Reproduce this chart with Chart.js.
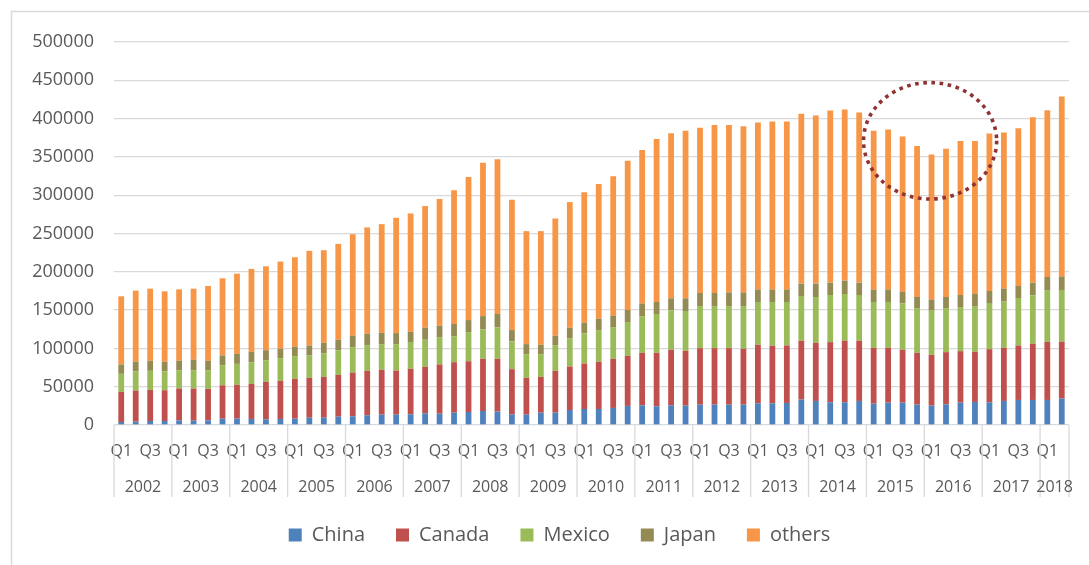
<!DOCTYPE html>
<html>
<head>
<meta charset="utf-8">
<title>Imports by source</title>
<script src="https://cdn.jsdelivr.net/npm/chart.js@4.4.0/dist/chart.umd.min.js"></script>
<style>
  html, body { margin: 0; padding: 0; background: #fff; }
  #wrap { position: relative; width: 1089px; height: 565px; }
</style>
</head>
<body>
<div id="wrap"><canvas id="importsChart"></canvas></div>
<script>
// categories
const years = ['2002', '2003', '2004', '2005', '2006', '2007', '2008', '2009', '2010',
  '2011', '2012', '2013', '2014', '2015', '2016', '2017', '2018'];
const quarterNames = ['Q1', 'Q2', 'Q3', 'Q4'];
const quartersIn2018 = 2;

// series values
const china = [3900, 4400, 5200, 5200, 6100, 5700, 6100, 8300, 8300, 7900, 7400, 7900,
  8300, 9600, 9600, 10900, 11300, 12700, 13500, 13500, 14000, 15300, 14800, 16100,
  17000, 18300, 17500, 14000, 13500, 16100, 16100, 19600, 20900, 20900, 22300, 24900,
  25700, 24400, 25700, 25300, 26600, 26600, 26600, 26600, 28400, 28400, 28800, 33200,
  31400, 29700, 29700, 31400, 27900, 29200, 29200, 26600, 25300, 27000, 29200, 30100,
  29700, 31400, 32700, 32700, 32700, 34500];
const canada = [39300, 40600, 40600, 40200, 41500, 41900, 41000, 43600, 44100, 45800, 48900, 49700,
  51900, 51900, 53200, 54500, 57200, 58000, 58500, 57600, 59300, 60600, 64200, 65900,
  66300, 68100, 68900, 58900, 48000, 46700, 54600, 56800, 59400, 61600, 64100, 65400,
  68500, 69800, 72500, 71600, 73700, 73700, 73700, 72900, 76300, 75000, 75000, 76800,
  75900, 78500, 80300, 78600, 72900, 71600, 69000, 67600, 66300, 68100, 67200, 65400,
  69300, 69400, 71100, 73300, 75900, 74100];
const mexico = [23600, 25200, 24900, 24800, 24000, 24000, 24500, 26200, 27400, 28300, 28300, 29700,
  29700, 29700, 31000, 32300, 33200, 33600, 33600, 34500, 35000, 35400, 35700, 34000,
  38000, 38400, 41000, 36200, 31000, 29700, 33600, 37000, 39200, 41400, 41400, 44100,
  48000, 50700, 51400, 51900, 55000, 54200, 55000, 55800, 55900, 57200, 56800, 58400,
  59800, 61500, 61000, 59700, 59800, 59800, 60600, 58500, 57600, 57600, 57600, 59800,
  60300, 60200, 62000, 63300, 66800, 67700];
const japan = [12200, 12300, 13100, 12300, 12200, 13500, 12200, 12700, 13100, 13500, 13100, 12200,
  12200, 12600, 13500, 13600, 14800, 14800, 14800, 14400, 13400, 15700, 14900, 15800,
  15700, 17400, 17500, 14800, 13100, 12200, 12200, 13600, 14000, 14800, 14900, 15700,
  16200, 15700, 15800, 16600, 17000, 17800, 17900, 17500, 16100, 16100, 16100, 16200,
  17500, 16200, 17500, 16200, 16100, 16100, 15300, 14400, 14400, 14400, 15700, 16200,
  15700, 17000, 15700, 16600, 17900, 17400];
const others = [89000, 92900, 94200, 92000, 93300, 92900, 97700, 100700, 104700, 108300, 109500, 113900,
  116900, 123500, 120900, 125200, 132600, 138800, 141800, 150500, 154500, 158800, 165400, 174500,
  186700, 200300, 202000, 170200, 147500, 148400, 153100, 164000, 170200, 175900, 181900, 195000,
  200700, 212900, 215500, 218600, 215600, 219500, 218600, 217300, 218200, 219500, 219500, 221600,
  219400, 224700, 223400, 222100, 207300, 209000, 202400, 197200, 189400, 193700, 201100, 199300,
  205500, 203800, 205900, 215900, 217700, 235200];

// y axis ticks
const yMax = 500000;
const yStep = 50000;

// dotted ring around the 2015-2016 dip (centre index / value, half sizes)
const ring = { index: 55.9, value: 371000, halfIndex: 4.6, halfValue: 76000 };

const quarterLabels = [];
const quarterYears = [];
years.forEach(function (yr) {
  const n = yr === '2018' ? quartersIn2018 : 4;
  for (let q = 0; q < n; q++) {
    quarterLabels.push(quarterNames[q]);
    quarterYears.push(yr);
  }
});

const textColor = '#595959';
const lineColor = '#d9d9d9';
const fontFamily = '"Open Sans", "DejaVu Sans", sans-serif';

// frame, year row and the ring
const extrasPlugin = {
  id: 'extras',
  afterLayout(chart) {
    // legend sits a bit right of the page centre in the original
    chart.legend.left += 15;
    chart.legend.right += 15;
  },
  beforeDraw(chart) {
    const ctx = chart.ctx;
    ctx.save();
    ctx.fillStyle = '#fff';
    ctx.fillRect(0, 0, chart.width, chart.height);
    ctx.strokeStyle = lineColor;
    ctx.lineWidth = 1.5;
    ctx.strokeRect(11.5, 11.5, chart.width + 50, chart.height + 50);
    ctx.restore();
  },
  afterDraw(chart) {
    const ctx = chart.ctx;
    const x = chart.scales.x;
    const y = chart.scales.y;
    const area = chart.chartArea;
    const half = (x.getPixelForValue(1) - x.getPixelForValue(0)) / 2;
    ctx.save();
    // year separators and labels
    ctx.strokeStyle = lineColor;
    ctx.lineWidth = 1.3;
    ctx.fillStyle = textColor;
    ctx.font = '16px ' + fontFamily;
    ctx.textAlign = 'center';
    ctx.textBaseline = 'middle';
    let start = 0;
    for (let i = 1; i <= quarterYears.length; i++) {
      if (i === quarterYears.length || quarterYears[i] !== quarterYears[start]) {
        const left = x.getPixelForValue(start) - half;
        const right = x.getPixelForValue(i - 1) + half;
        ctx.beginPath();
        ctx.moveTo(left, area.bottom);
        ctx.lineTo(left, 497);
        ctx.stroke();
        if (i === quarterYears.length) {
          ctx.beginPath();
          ctx.moveTo(right, area.bottom);
          ctx.lineTo(right, 497);
          ctx.stroke();
        }
        ctx.fillText(quarterYears[start], (left + right) / 2, 487);
        start = i;
      }
    }
    // dotted ring
    const cx = x.getPixelForValue(ring.index);
    const cy = y.getPixelForValue(ring.value);
    const rx = x.getPixelForValue(ring.index + ring.halfIndex) - cx;
    const ry = cy - y.getPixelForValue(ring.value + ring.halfValue);
    ctx.strokeStyle = '#8e3232';
    ctx.lineWidth = 3.6;
    ctx.setLineDash([3.6, 4.6]);
    ctx.beginPath();
    ctx.ellipse(cx, cy, rx, ry, 0, 0, Math.PI * 2);
    ctx.stroke();
    ctx.restore();
  }
};

document.addEventListener('DOMContentLoaded', function () {
  const ctx = document.getElementById('importsChart').getContext('2d');
  const bar = { categoryPercentage: 0.8, barPercentage: 0.5, borderWidth: 0 };
  new Chart(ctx, {
    type: 'bar',
    data: {
      labels: quarterLabels,
      datasets: [
        Object.assign({ label: 'China', data: china, backgroundColor: '#4f81bd' }, bar),
        Object.assign({ label: 'Canada', data: canada, backgroundColor: '#c0504d' }, bar),
        Object.assign({ label: 'Mexico', data: mexico, backgroundColor: '#9bbb59' }, bar),
        Object.assign({ label: 'Japan', data: japan, backgroundColor: '#948a54' }, bar),
        Object.assign({ label: 'others', data: others, backgroundColor: '#f79646' }, bar)
      ]
    },
    options: {
      responsive: true,
      maintainAspectRatio: false,
      animation: false,
      layout: { padding: { top: 42, left: 20, right: 20, bottom: 10 } },
      plugins: {
        legend: {
          position: 'bottom',
          labels: {
            boxWidth: 13,
            boxHeight: 13,
            padding: 31,
            color: textColor,
            font: { family: fontFamily, size: 20 }
          }
        },
        tooltip: { enabled: false }
      },
      scales: {
        x: {
          stacked: true,
          grid: { display: false, drawTicks: false },
          border: { display: false },
          ticks: {
            autoSkip: false,
            maxRotation: 0,
            minRotation: 0,
            padding: 17,
            color: textColor,
            font: { family: fontFamily, size: 16 },
            callback: function (value, index) {
              return index % 2 === 0 ? quarterLabels[index] : '';
            }
          },
          afterFit: function (scale) { scale.height = 69; }
        },
        y: {
          stacked: true,
          min: 0,
          max: yMax,
          grid: { color: lineColor, lineWidth: 1.3, drawTicks: false },
          border: { display: false },
          ticks: {
            stepSize: yStep,
            padding: 20,
            color: textColor,
            font: { family: fontFamily, size: 18 },
            callback: function (value) { return String(value); }
          },
          afterFit: function (scale) { scale.width = 94; }
        }
      }
    },
    plugins: [extrasPlugin]
  });
});
</script>
</body>
</html>
